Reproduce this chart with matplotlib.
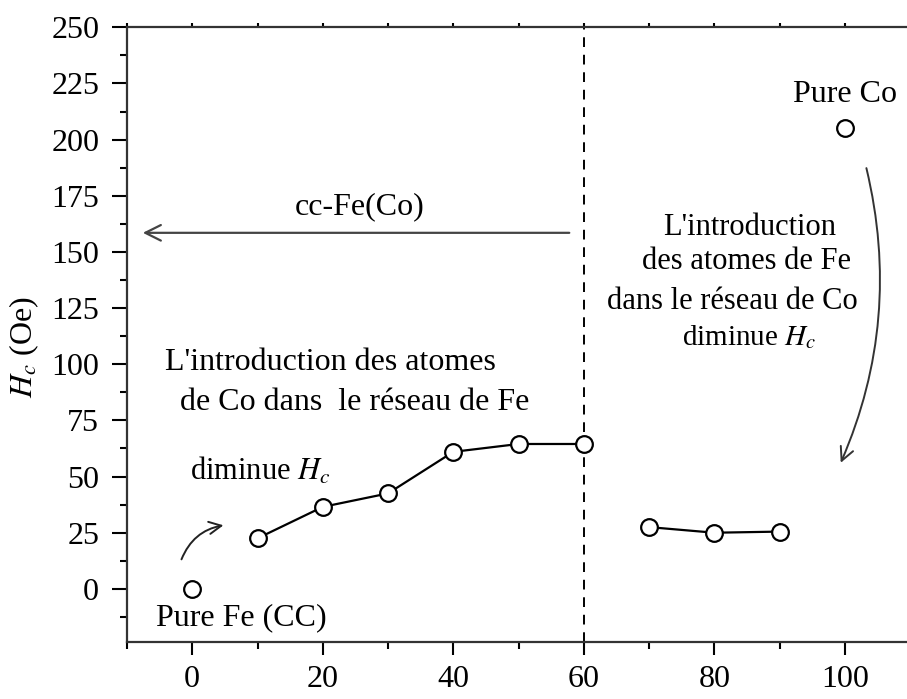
import matplotlib
matplotlib.use("Agg")
import matplotlib.pyplot as plt
from matplotlib.ticker import MultipleLocator

plt.rcParams['font.family'] = ['Liberation Serif', 'DejaVu Serif']
plt.rcParams['mathtext.fontset'] = 'stix'

# data
co_fe = [10, 20, 30, 40, 50, 60]
hc_fe = [22.5, 36.5, 42.5, 61, 64.5, 64.5]
co_co = [70, 80, 90]
hc_co = [27.5, 25, 25.5]
pure_x = [0, 100]
pure_hc = [0, 205]

FS = 23


def main():
    fig = plt.figure(figsize=(9.07, 6.99), dpi=100)
    ax = fig.add_axes([0.140, 0.082, 0.862, 0.879])

    mk = dict(marker='o', ms=12, mfc='white', mec='black', mew=1.6,
              color='black', lw=1.6, zorder=3)
    ax.plot(co_fe, hc_fe, **mk)
    ax.plot(co_co, hc_co, **mk)
    ax.plot(pure_x, pure_hc, ls='none', **mk)

    ax.axvline(60, color='black', ls=(0, (5, 4)), lw=1.4, zorder=1)

    ax.set_xlim(-10, 109.8)
    ax.set_ylim(-23.5, 250)
    ax.xaxis.set_major_locator(MultipleLocator(20))
    ax.xaxis.set_minor_locator(MultipleLocator(10))
    ax.yaxis.set_major_locator(MultipleLocator(25))
    ax.yaxis.set_minor_locator(MultipleLocator(12.5))

    ax.spines['right'].set_visible(False)
    for s in ['left', 'bottom', 'top']:
        ax.spines[s].set_linewidth(1.6)
        ax.spines[s].set_color('#333333')

    ax.tick_params(axis='y', which='major', direction='out', length=11,
                   width=1.5, pad=9, labelsize=FS)
    ax.tick_params(axis='y', which='minor', direction='out', length=5, width=1.5)
    ax.tick_params(axis='x', which='major', direction='out', length=9,
                   width=1.5, pad=8, labelsize=FS)
    ax.tick_params(axis='x', which='minor', direction='out', length=5, width=1.5)
    ax.tick_params(axis='x', which='both', top=True, labeltop=False)
    for t in ax.xaxis.get_major_ticks() + ax.xaxis.get_minor_ticks():
        t.tick2line.set_markersize(3)

    ax.set_ylabel('$H_c$ (Oe)', fontsize=FS, labelpad=6)
    ax.yaxis.set_label_coords(-0.11, 0.48)

    # cc-Fe(Co) arrow
    ax.annotate('', xy=(-8, 158.5), xytext=(58.2, 158.5),
                arrowprops=dict(arrowstyle='->', color='#444444', lw=1.6,
                                mutation_scale=28))
    ax.text(25.7, 170, 'cc-Fe(Co)', fontsize=FS, ha='center', va='center')

    # left annotation
    ax.text(-4.1, 100.7, "L'introduction des atomes", fontsize=FS,
            ha='left', va='center')
    ax.text(-1.8, 83, "de Co dans  le réseau de Fe", fontsize=FS,
            ha='left', va='center')
    ax.text(-0.3, 52.4, "diminue $H_c$", fontsize=FS - 1,
            ha='left', va='center')
    ax.annotate('', xy=(5.2, 28.5), xytext=(-1.8, 12),
                arrowprops=dict(arrowstyle='->', color='#222222', lw=1.4,
                                mutation_scale=22,
                                connectionstyle='arc3,rad=-0.3'))
    ax.text(7.5, -13, 'Pure Fe (CC)', fontsize=FS, ha='center', va='center')

    # right annotation
    ax.text(100, 220, 'Pure Co', fontsize=FS, ha='center', va='center')
    ax.text(85.4, 161, "L'introduction", fontsize=FS - 1, ha='center', va='center')
    ax.text(85.0, 145.6, "des atomes de Fe", fontsize=FS - 1, ha='center', va='center')
    ax.text(82.7, 127.8, "dans le réseau de Co", fontsize=FS - 1, ha='center', va='center')
    ax.text(85.4, 111.9, "diminue $H_c$", fontsize=FS - 2, ha='center', va='center')
    ax.annotate('', xy=(99.2, 55), xytext=(103.2, 188.5),
                arrowprops=dict(arrowstyle='->', color='#333333', lw=1.4,
                                mutation_scale=24,
                                connectionstyle='arc3,rad=-0.17'))

    fig.savefig('out.png', dpi=100)


if __name__ == '__main__':
    main()
